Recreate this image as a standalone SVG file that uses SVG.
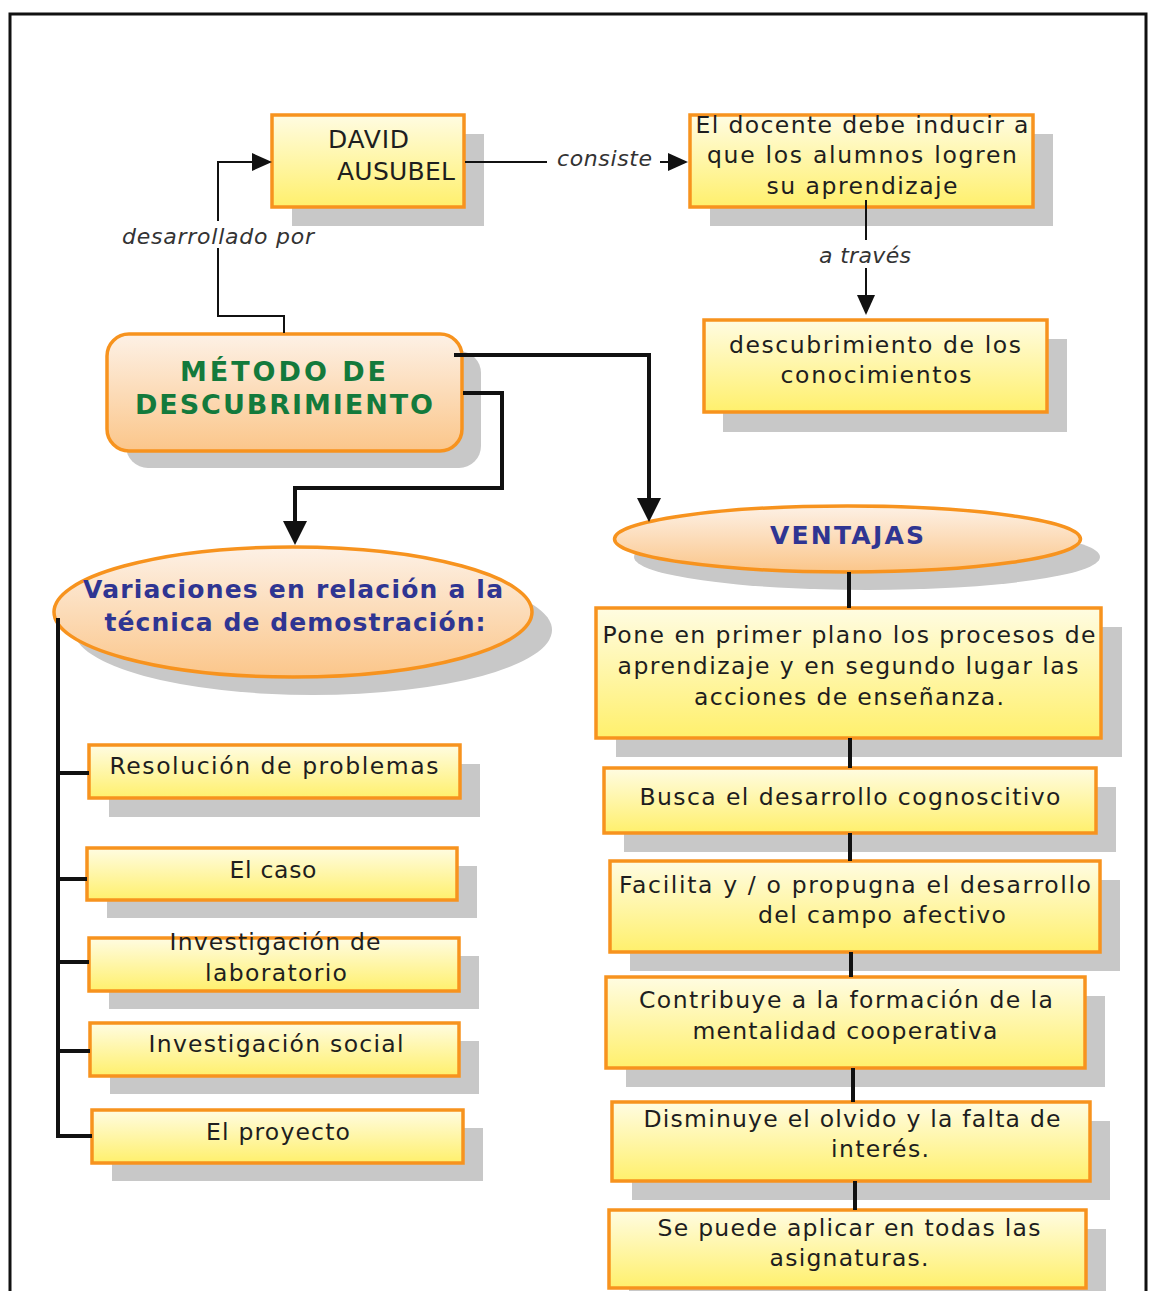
<svg xmlns="http://www.w3.org/2000/svg" width="1149" height="1291" viewBox="0 0 1149 1291">
<defs>
<linearGradient id="gY" x1="0" y1="0" x2="0" y2="1">
<stop offset="0" stop-color="#fffce2"/>
<stop offset="1" stop-color="#fff06c"/>
</linearGradient>
<linearGradient id="gO" x1="0" y1="0" x2="0" y2="1">
<stop offset="0" stop-color="#fdf1e6"/>
<stop offset="1" stop-color="#fbc68a"/>
</linearGradient>
<marker id="aS" markerUnits="userSpaceOnUse" markerWidth="20" markerHeight="18" viewBox="0 0 20 18" refX="10" refY="9" orient="auto">
<path d="M0,0 L20,9 L0,18 z" fill="#111"/>
</marker>
<marker id="aB" markerUnits="userSpaceOnUse" markerWidth="24" markerHeight="24" viewBox="0 0 24 24" refX="12" refY="12" orient="auto">
<path d="M0,0 L24,12 L0,24 z" fill="#111"/>
</marker>
</defs>
<style>
.sh{fill:#c8c8c8;}
.box{fill:url(#gY);stroke:#f7931e;stroke-width:3.5;}
.obox{fill:url(#gO);stroke:#f7931e;stroke-width:3.5;}
.t{font-family:"DejaVu Sans",Verdana,sans-serif;font-size:23.5px;fill:#1e1e1e;text-anchor:middle;}
.da{font-size:25px;text-anchor:start;}
.g{font-size:27px;font-weight:bold;fill:#137a3c;}
.b{font-size:25px;font-weight:bold;fill:#2f3592;}
.lbl{font-family:"DejaVu Sans",Verdana,sans-serif;font-size:22px;font-style:italic;fill:#333;text-anchor:middle;}
.thin{fill:none;stroke:#111;stroke-width:2;}
.thick{fill:none;stroke:#111;stroke-width:4;}
</style>
<rect x="0" y="0" width="1149" height="1291" fill="#fff"/>
<rect x="10" y="14" width="1136" height="1300" fill="none" stroke="#111" stroke-width="3"/>

<g id="ausubel">
<rect class="sh" x="292" y="134" width="192" height="92"/>
<rect class="box" x="272" y="115" width="192" height="92"/>
<text class="t da" x="328" y="148" textLength="81" lengthAdjust="spacing">DAVID</text>
<text class="t da" x="337" y="180" textLength="118" lengthAdjust="spacing">AUSUBEL</text>
</g>

<g id="docente">
<rect class="sh" x="710" y="134" width="343" height="92"/>
<rect class="box" x="690" y="115" width="343" height="92"/>
<text class="t" x="862" y="133" textLength="333" lengthAdjust="spacing">El docente debe inducir a</text>
<text class="t" x="862" y="163" textLength="310" lengthAdjust="spacing">que los alumnos logren</text>
<text class="t" x="862" y="194" textLength="191" lengthAdjust="spacing">su aprendizaje</text>
</g>

<g id="descubrimiento">
<rect class="sh" x="723" y="339" width="344" height="93"/>
<rect class="box" x="704" y="320" width="343" height="92"/>
<text class="t" x="875" y="353" textLength="292" lengthAdjust="spacing">descubrimiento de los</text>
<text class="t" x="876" y="383" textLength="191" lengthAdjust="spacing">conocimientos</text>
</g>

<g id="metodo">
<rect class="sh" x="126" y="351" width="355" height="117" rx="22"/>
<rect class="obox" x="107" y="334" width="355" height="117" rx="22"/>
<text class="t g" x="283" y="381" textLength="206" lengthAdjust="spacing">MÉTODO DE</text>
<text class="t g" x="284" y="414" textLength="298" lengthAdjust="spacing">DESCUBRIMIENTO</text>
</g>

<g id="variaciones">
<ellipse class="sh" cx="313" cy="630" rx="239" ry="65"/>
<ellipse class="obox" cx="293" cy="612" rx="239" ry="65"/>
<text class="t b" x="293" y="598" textLength="420" lengthAdjust="spacing">Variaciones en relación a la</text>
<text class="t b" x="295" y="631" textLength="381" lengthAdjust="spacing">técnica de demostración:</text>
</g>

<g id="ventajas">
<ellipse class="sh" cx="867" cy="557" rx="233" ry="33"/>
<ellipse class="obox" cx="847.5" cy="539" rx="233" ry="33"/>
<text class="t b" x="847" y="544" textLength="154" lengthAdjust="spacing">VENTAJAS</text>
</g>

<g id="resolucion">
<rect class="sh" x="109" y="764" width="371" height="53"/>
<rect class="box" x="89" y="745" width="371" height="53"/>
<text class="t" x="274" y="774" textLength="329" lengthAdjust="spacing">Resolución de problemas</text>
</g>

<g id="caso">
<rect class="sh" x="107" y="866" width="370" height="52"/>
<rect class="box" x="87" y="848" width="370" height="52"/>
<text class="t" x="273" y="878" textLength="87" lengthAdjust="spacing">El caso</text>
</g>

<g id="laboratorio">
<rect class="sh" x="109" y="956" width="370" height="53"/>
<rect class="box" x="89" y="938" width="370" height="53"/>
<text class="t" x="275" y="950" textLength="211" lengthAdjust="spacing">Investigación de</text>
<text class="t" x="276" y="981" textLength="142" lengthAdjust="spacing">laboratorio</text>
</g>

<g id="social">
<rect class="sh" x="110" y="1041" width="369" height="53"/>
<rect class="box" x="90" y="1023" width="369" height="53"/>
<text class="t" x="276" y="1052" textLength="255" lengthAdjust="spacing">Investigación social</text>
</g>

<g id="proyecto">
<rect class="sh" x="112" y="1128" width="371" height="53"/>
<rect class="box" x="92" y="1110" width="371" height="53"/>
<text class="t" x="278" y="1140" textLength="144" lengthAdjust="spacing">El proyecto</text>
</g>

<g id="pone">
<rect class="sh" x="616" y="627" width="506" height="130"/>
<rect class="box" x="596" y="608" width="505" height="130"/>
<text class="t" x="849" y="643" textLength="493" lengthAdjust="spacing">Pone en primer plano los procesos de</text>
<text class="t" x="848" y="674" textLength="461" lengthAdjust="spacing">aprendizaje y en segundo lugar las</text>
<text class="t" x="849" y="705" textLength="310" lengthAdjust="spacing">acciones de enseñanza.</text>
</g>

<g id="busca">
<rect class="sh" x="624" y="787" width="492" height="65"/>
<rect class="box" x="604" y="768" width="492" height="65"/>
<text class="t" x="850" y="805" textLength="421" lengthAdjust="spacing">Busca el desarrollo cognoscitivo</text>
</g>

<g id="facilita">
<rect class="sh" x="630" y="880" width="490" height="91"/>
<rect class="box" x="610" y="861" width="490" height="91"/>
<text class="t" x="855" y="893" textLength="472" lengthAdjust="spacing">Facilita y / o propugna el desarrollo</text>
<text class="t" x="882" y="923" textLength="248" lengthAdjust="spacing">del campo afectivo</text>
</g>

<g id="contribuye">
<rect class="sh" x="626" y="996" width="479" height="91"/>
<rect class="box" x="606" y="977" width="479" height="91"/>
<text class="t" x="846" y="1008" textLength="414" lengthAdjust="spacing">Contribuye a la formación de la</text>
<text class="t" x="845" y="1039" textLength="305" lengthAdjust="spacing">mentalidad cooperativa</text>
</g>

<g id="disminuye">
<rect class="sh" x="632" y="1121" width="478" height="79"/>
<rect class="box" x="612" y="1102" width="478" height="79"/>
<text class="t" x="852" y="1127" textLength="417" lengthAdjust="spacing">Disminuye el olvido y la falta de</text>
<text class="t" x="880" y="1157" textLength="98" lengthAdjust="spacing">interés.</text>
</g>

<g id="aplicar">
<rect class="sh" x="629" y="1229" width="477" height="78"/>
<rect class="box" x="609" y="1210" width="477" height="78"/>
<text class="t" x="849" y="1236" textLength="383" lengthAdjust="spacing">Se puede aplicar en todas las</text>
<text class="t" x="849" y="1266" textLength="159" lengthAdjust="spacing">asignaturas.</text>
</g>

<g id="connectors">
<path class="thin" d="M284,333 V316 H218 V248"/>
<path class="thin" d="M218,221 V162 H262" marker-end="url(#aS)"/>
<text class="lbl" x="218" y="244" textLength="192" lengthAdjust="spacing">desarrollado por</text>
<path class="thin" d="M465,162 H547"/>
<path class="thin" d="M660,162 H678" marker-end="url(#aS)"/>
<text class="lbl" x="604.5" y="166" textLength="95" lengthAdjust="spacing">consiste</text>
<path class="thin" d="M866,200 V240"/>
<path class="thin" d="M866,268 V305" marker-end="url(#aS)"/>
<text class="lbl" x="865" y="263" textLength="92" lengthAdjust="spacing">a través</text>
<path class="thick" d="M454,355 H649 V510" marker-end="url(#aB)"/>
<path class="thick" d="M463,393 H502 V488 H295 V533" marker-end="url(#aB)"/>
<path class="thick" d="M58,618 V1136 H92"/>
<path class="thick" d="M58,773 H89 M58,879 H87 M58,962 H89 M58,1051 H90"/>
<path class="thick" d="M849,572 V608 M850,738 V768 M850,833 V861 M851,952 V977 M853,1068 V1102 M855,1181 V1210"/>
</g>
</svg>
